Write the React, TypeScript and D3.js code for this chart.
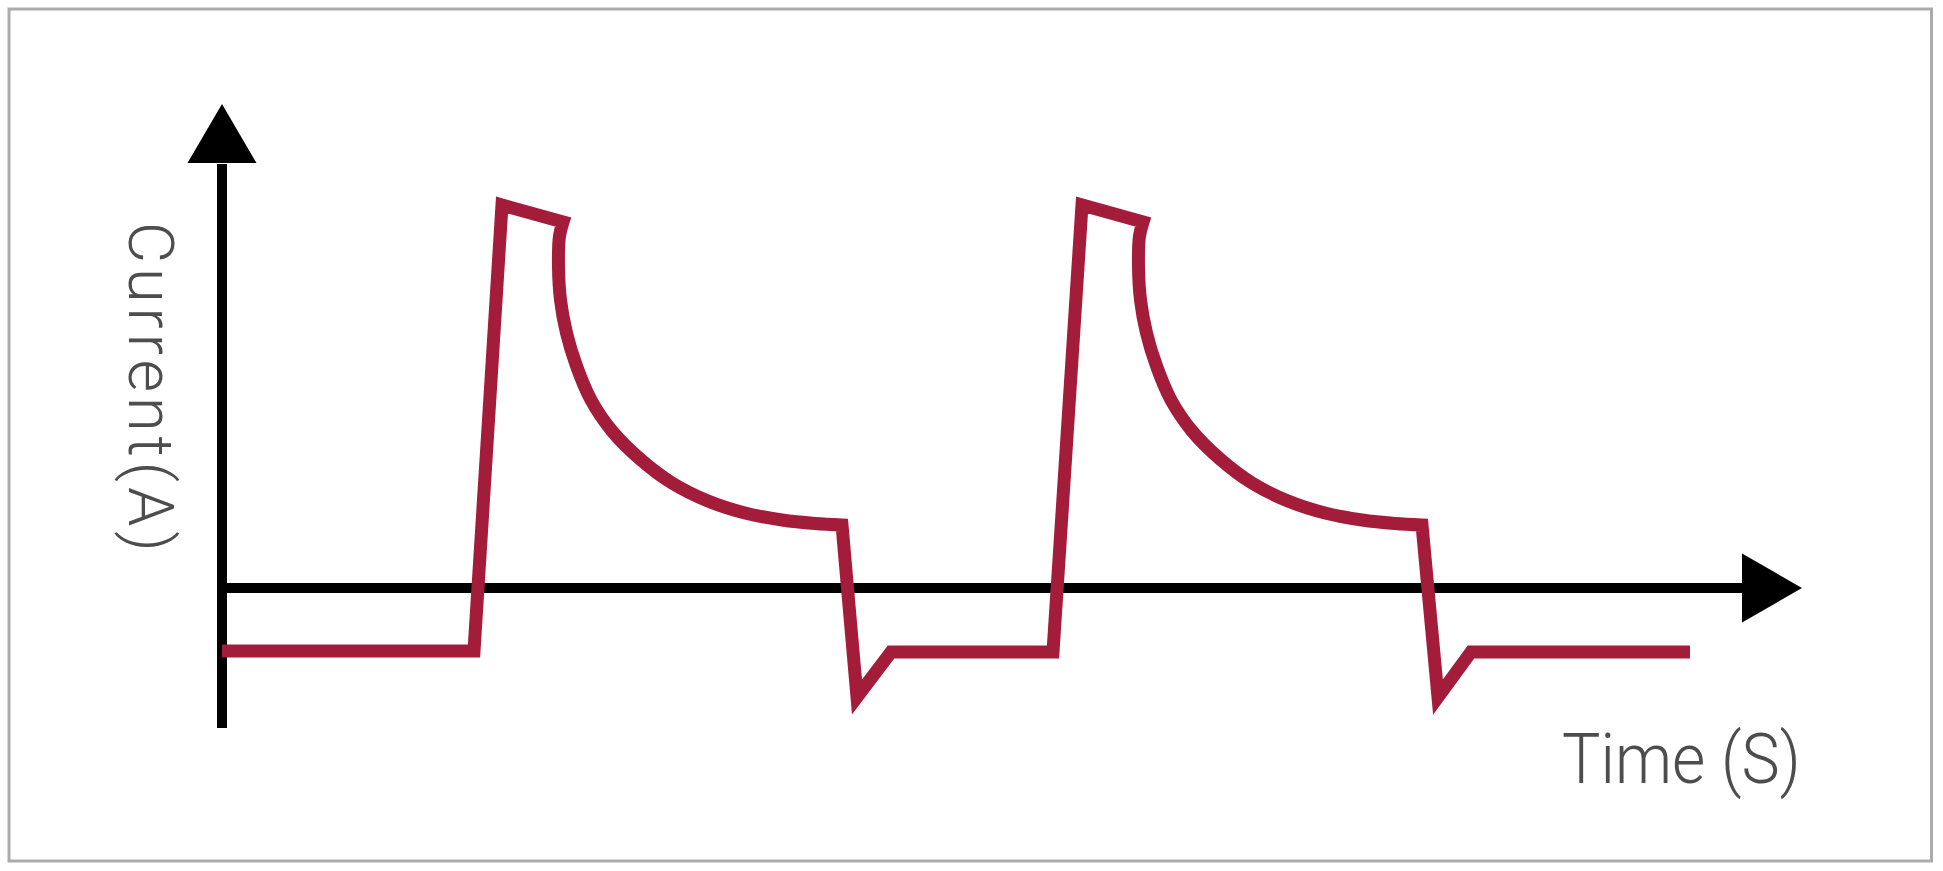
import * as d3 from "d3";

type Pt = [number, number];

const width = 1943;
const height = 871;
const margin = { left: 222, top: 104 };

// time (arbitrary units) and current (arbitrary units)
const timeDomain: [number, number] = [0, 158];
const currentDomain: [number, number] = [-14, 48.4];
const timeAxisEnd = 152;
const currentAxisEnd = 42.5;

const riseOne: Pt[] = [[0, -6.3], [25.2, -6.3], [28.0, 38.3], [34.1, 36.6]];
const decayOne: Pt[] = [
  [34.1, 36.6], [33.75, 35.2], [33.65, 32.1], [33.85, 28.8], [34.45, 25.5], [35.45, 22.2],
  [36.9, 18.8], [39.0, 15.7], [41.8, 12.9], [45.0, 10.5], [48.6, 8.7], [52.3, 7.5],
  [56.0, 6.8], [59.3, 6.45], [62.0, 6.3],
];
const riseTwo: Pt[] = [[62.0, 6.3], [63.5, -10.9], [66.9, -6.4], [83.1, -6.4], [86.0, 38.3], [92.1, 36.6]];
const decayTwo: Pt[] = [
  [92.1, 36.6], [91.75, 35.2], [91.65, 32.1], [91.85, 28.8], [92.45, 25.5], [93.45, 22.2],
  [94.9, 18.8], [97.0, 15.7], [99.8, 12.9], [103.0, 10.5], [106.6, 8.7], [110.3, 7.5],
  [114.0, 6.8], [117.3, 6.45], [120.0, 6.3],
];
const tail: Pt[] = [[120.0, 6.3], [121.6, -10.9], [124.9, -6.4], [146.8, -6.4]];

const xLabel = "Time (S)";
const yLabel = "Current(A)";

const lineColor = "#a31d3a";
const textColor = "#4d4d4d";
const labelFont = "Roboto, 'Liberation Sans', Arial, sans-serif";

export default function App() {
  const x = d3.scaleLinear().domain(timeDomain).range([margin.left, margin.left + 10 * (timeDomain[1] - timeDomain[0])]);
  const y = d3.scaleLinear().domain(currentDomain).range([margin.top + 10 * (currentDomain[1] - currentDomain[0]), margin.top]);

  const straight = d3.line<Pt>().x((d) => x(d[0])).y((d) => y(d[1]));
  const smooth = d3.line<Pt>().x((d) => x(d[0])).y((d) => y(d[1])).curve(d3.curveCatmullRom.alpha(0.5));

  // chain the pieces into one path so the corners get proper joins
  const pieces: [typeof straight, Pt[]][] = [
    [straight, riseOne],
    [smooth, decayOne],
    [straight, riseTwo],
    [smooth, decayTwo],
    [straight, tail],
  ];
  const traceD = pieces
    .map(([gen, pts], i) => {
      const d = gen(pts) ?? "";
      return i === 0 ? d : d.replace(/^M[^LCZ]*/, "");
    })
    .join("");

  const x0 = x(0);
  const y0 = y(0);
  const yBottom = y(currentDomain[0]);
  const yArrowBase = y(currentAxisEnd);
  const yArrowTip = y(currentDomain[1]);
  const xArrowBase = x(timeAxisEnd);
  const xArrowTip = x(timeDomain[1]);
  const half = 34.5;

  return (
    <svg width={width} height={height} style={{ position: "absolute", left: 0, top: 0, background: "#fff" }}>
      <rect x={9} y={9} width={1922.5} height={852} fill="#fff" stroke="#ababab" strokeWidth={3} />

      <line x1={x0} x2={x0} y1={yBottom} y2={yArrowBase + 1} stroke="#000" strokeWidth={10} />
      <path d={`M${x0 - half},${yArrowBase}L${x0},${yArrowTip}L${x0 + half},${yArrowBase}Z`} fill="#000" />

      <line x1={x0 - 5} x2={xArrowBase + 1} y1={y0} y2={y0} stroke="#000" strokeWidth={10} />
      <path d={`M${xArrowBase},${y0 - half}L${xArrowTip},${y0}L${xArrowBase},${y0 + half}Z`} fill="#000" />

      <path d={traceD} fill="none" stroke={lineColor} strokeWidth={13} strokeLinejoin="miter" strokeMiterlimit={10} />

      <text
        transform="translate(129, 222) rotate(90)"
        fontFamily={labelFont}
        fontWeight={300}
        fontSize={63}
        letterSpacing={5}
        fill={textColor}
      >
        {yLabel}
      </text>
      <text
        transform="translate(1562, 783) scale(0.92, 1)"
        fontFamily={labelFont}
        fontWeight={300}
        fontSize={70}
        fill={textColor}
      >
        {xLabel}
      </text>
    </svg>
  );
}
